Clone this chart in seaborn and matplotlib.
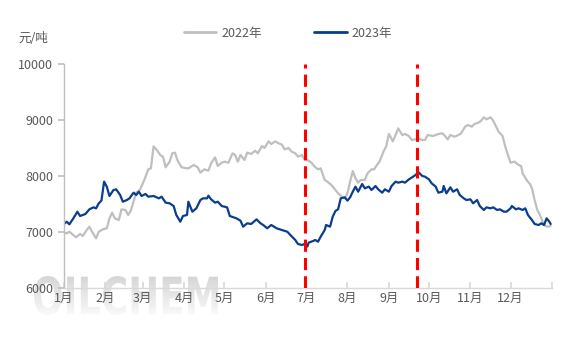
import matplotlib
matplotlib.use("Agg")
import matplotlib.pyplot as plt
import numpy as np
import pandas as pd
import seaborn as sns
from matplotlib.lines import Line2D
from matplotlib.textpath import TextPath
from matplotlib.patches import PathPatch
from matplotlib.font_manager import FontProperties
from matplotlib.transforms import Affine2D

# ---------------- data ----------------
months = ["1月", "2月", "3月", "4月", "5月", "6月", "7月", "8月", "9月", "10月", "11月", "12月"]
month_start_days = [0, 31, 59, 90, 120, 151, 181, 212, 243, 273, 304, 334]
series_names = ["2022年", "2023年"]

days_2022 = [0, 2, 4, 7, 9, 12, 14, 17, 19, 21, 24, 26, 29, 32, 34, 36, 38, 41, 43, 46, 48, 50,
             52, 54, 57, 59, 61, 63, 65, 67, 69, 72, 74, 76, 79, 81, 83, 85, 88, 92, 93, 97, 100,
             102, 105, 108, 110, 113, 115, 118, 120, 123, 126, 128, 130, 132, 135, 137, 140, 143,
             145, 148, 150, 153, 155, 158, 160, 163, 165, 168, 170, 173, 175, 178, 180, 183, 185,
             188, 190, 192, 195, 197, 200, 203, 205, 208, 210, 212, 214, 216, 218, 220, 222, 225,
             227, 230, 232, 234, 236, 239, 241, 243, 246, 248, 250, 253, 255, 258, 260, 263, 265,
             268, 270, 272, 276, 280, 283, 285, 287, 289, 292, 295, 297, 300, 302, 305, 307, 310,
             312, 314, 316, 319, 321, 323, 325, 328, 330, 332, 334, 337, 339, 342, 343, 346, 349,
             350, 352, 354, 356, 358, 360, 362, 364]
price_2022 = [6988, 6976, 7005, 6946, 6905, 6964, 6929, 7036, 7095, 7005, 6887, 7005, 7048, 7066,
              7244, 7345, 7244, 7214, 7405, 7393, 7304, 7381, 7541, 7702, 7762, 7869, 7988, 8119,
              8137, 8530, 8476, 8375, 8345, 8155, 8256, 8405, 8417, 8274, 8155, 8137, 8137, 8196,
              8155, 8060, 8119, 8095, 8226, 8333, 8179, 8238, 8256, 8238, 8405, 8375, 8256, 8375,
              8286, 8417, 8393, 8452, 8405, 8536, 8500, 8619, 8571, 8619, 8589, 8560, 8476, 8500,
              8440, 8405, 8345, 8375, 8286, 8274, 8238, 8155, 8119, 8137, 7929, 7899, 7839, 7750,
              7690, 7631, 7601, 7690, 7899, 8089, 7958, 7881, 7929, 7929, 8048, 8119, 8119, 8196,
              8256, 8440, 8530, 8750, 8619, 8732, 8850, 8732, 8750, 8714, 8643, 8655, 8673, 8643,
              8643, 8732, 8714, 8750, 8762, 8714, 8655, 8732, 8702, 8732, 8762, 8881, 8911, 8881,
              8929, 8952, 8988, 9048, 9012, 9048, 8988, 8893, 8792, 8714, 8530, 8375, 8238, 8256,
              8214, 8173, 8048, 7929, 7839, 7780, 7571, 7393, 7304, 7184, 7107, 7095, 7107]

days_2023 = [0, 2, 4, 7, 10, 12, 16, 19, 22, 24, 26, 28, 30, 32, 34, 37, 39, 42, 44, 47, 49, 52,
             54, 56, 58, 61, 63, 67, 71, 73, 76, 79, 82, 84, 87, 89, 92, 93, 96, 99, 102, 104, 107,
             108, 110, 113, 115, 118, 122, 124, 127, 129, 132, 134, 137, 140, 144, 147, 149, 152,
             155, 159, 163, 167, 170, 173, 175, 178, 180, 182, 183, 185, 188, 190, 192, 195, 196,
             199, 201, 203, 205, 207, 210, 212, 214, 216, 218, 220, 223, 225, 228, 230, 233, 235,
             238, 240, 243, 245, 248, 250, 253, 255, 258, 261, 263, 265, 268, 270, 273, 275, 278,
             280, 283, 284, 286, 289, 291, 294, 296, 299, 301, 304, 306, 309, 311, 314, 316, 319,
             321, 324, 326, 329, 331, 334, 335, 338, 340, 343, 345, 347, 350, 352, 355, 357, 359,
             361, 363, 364]
price_2023 = [7143, 7184, 7137, 7244, 7363, 7286, 7321, 7405, 7440, 7423, 7512, 7560, 7899, 7810,
              7643, 7750, 7762, 7661, 7541, 7571, 7601, 7702, 7661, 7720, 7643, 7679, 7631, 7643,
              7601, 7631, 7524, 7512, 7464, 7304, 7184, 7286, 7304, 7541, 7363, 7423, 7571, 7601,
              7601, 7649, 7584, 7524, 7541, 7464, 7440, 7286, 7262, 7244, 7202, 7095, 7155, 7143,
              7226, 7155, 7125, 7066, 7125, 7066, 7036, 7005, 6929, 6857, 6786, 6768, 6786, 6740,
              6810, 6827, 6857, 6827, 6917, 7036, 7125, 7095, 7274, 7375, 7405, 7601, 7619, 7560,
              7619, 7720, 7810, 7720, 7857, 7780, 7810, 7750, 7821, 7762, 7702, 7762, 7720, 7821,
              7899, 7881, 7899, 7881, 7940, 7988, 8018, 8070, 8000, 7988, 7940, 7869, 7810, 7702,
              7720, 7821, 7690, 7798, 7720, 7762, 7661, 7601, 7571, 7583, 7512, 7571, 7464, 7393,
              7440, 7423, 7440, 7393, 7405, 7363, 7363, 7423, 7464, 7405, 7423, 7393, 7423, 7304,
              7214, 7143, 7125, 7155, 7125, 7244, 7184, 7143]

event_days = [180, 264]
y_ticks = [6000, 7000, 8000, 9000, 10000]
y_unit = "元/吨"
watermark = "OILCHEM"

# ---------------- build frame ----------------
df = pd.concat([
    pd.DataFrame({"day": days_2022, "price": price_2022, "year": series_names[0]}),
    pd.DataFrame({"day": days_2023, "price": price_2023, "year": series_names[1]}),
], ignore_index=True)

sns.set_theme(style="white")
plt.rcParams["font.family"] = ["Noto Sans CJK SC", "DejaVu Sans"]
plt.rcParams["axes.unicode_minus"] = False

colors = {"2022年": "#BFBFBF", "2023年": "#0A3D8C"}
text_color = "#595959"

W, H = 567, 341
fig = plt.figure(figsize=(W / 100, H / 100), dpi=100)
fig.patch.set_facecolor("white")

# ---- watermark (background layer, gradient-filled condensed text) ----
bg = fig.add_axes([0, 0, 1, 1], zorder=-1)
bg.set_xlim(0, W)
bg.set_ylim(0, H)
bg.axis("off")
tp = TextPath((0, 0), watermark, size=100,
              prop=FontProperties(family="DejaVu Sans", weight="bold"))
ext = tp.get_extents()
wx0, wx1, wy0, wy1 = 34, 218, H - 315, H - 276
tr = Affine2D().translate(-ext.x0, -ext.y0).scale((wx1 - wx0) / ext.width,
                                                   (wy1 - wy0) / ext.height).translate(wx0, wy0)
patch = PathPatch(tp, transform=tr + bg.transData, facecolor="none", edgecolor="none")
bg.add_patch(patch)
grad = np.linspace(0, 1, 100).reshape(-1, 1)
im = bg.imshow(grad, extent=[wx0 - 2, wx1 + 2, wy0 - 2, wy1 + 2], origin="upper",
               cmap=matplotlib.colors.LinearSegmentedColormap.from_list(
                   "wm", ["#D4D4D4", "#FBFBFB"]), aspect="auto", vmin=0, vmax=1)
im.set_clip_path(patch)

# ---- main axes ----
ax = fig.add_axes([64 / W, 53 / H, 488 / W, 224 / H], zorder=1)
ax.set_facecolor("none")

sns.lineplot(data=df, x="day", y="price", hue="year", palette=colors,
             hue_order=series_names, linewidth=1.6, ax=ax, legend=False,
             estimator=None, sort=True)

for d in event_days:
    ax.axvline(d, color="#FF0000", linewidth=2.2, linestyle=(0, (4, 2)), zorder=5)

ax.set_xlim(0, 365)
ax.set_ylim(6000, 10000)
ax.set_yticks(y_ticks)
ax.set_yticklabels([str(v) for v in y_ticks])
ax.set_xticks(month_start_days + [365])
ax.set_xticklabels(months + [""])
ax.set_xlabel("")
ax.set_ylabel("")

for s in ["top", "right"]:
    ax.spines[s].set_visible(False)
ax.spines["left"].set_color("#BFBFBF")
ax.spines["bottom"].set_color("#D9D9D9")
ax.spines["left"].set_linewidth(1.0)
ax.spines["bottom"].set_linewidth(1.0)

ax.tick_params(axis="y", direction="out", length=4, color="#BFBFBF", labelsize=9,
               labelcolor=text_color, pad=4, left=True)
ax.tick_params(axis="x", direction="in", length=4, color="#D9D9D9", labelsize=9,
               labelcolor=text_color, pad=3, bottom=True)

handles = [Line2D([0], [0], color=colors[n], linewidth=2) for n in series_names]
fig.legend(handles, series_names, loc="center", bbox_to_anchor=(288 / W, 1 - 33 / H),
           ncol=2, frameon=False, fontsize=9, labelcolor=text_color,
           handlelength=2.6, handletextpad=0.4, columnspacing=4.2)

fig.text(18 / W, 1 - 39 / H, y_unit, fontsize=9, color=text_color,
         ha="left", va="center")

fig.savefig("out.png", dpi=100)
